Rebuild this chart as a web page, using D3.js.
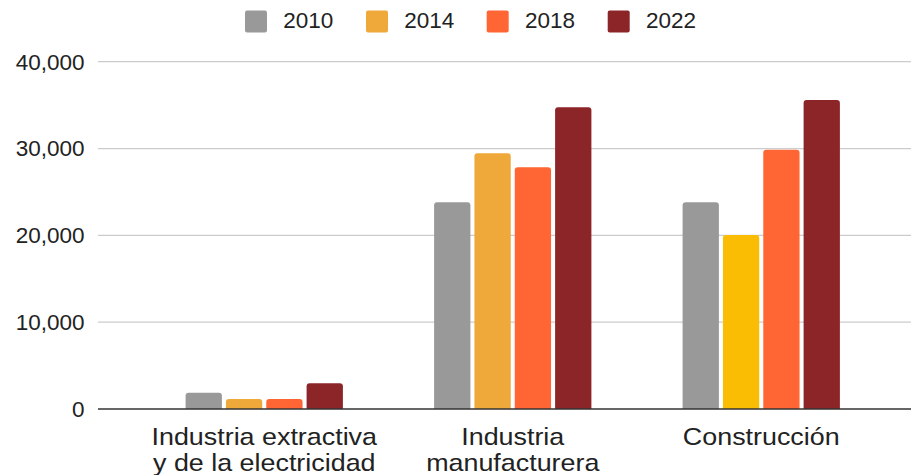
<!DOCTYPE html>
<html><head><meta charset="utf-8">
<script src="https://cdn.jsdelivr.net/npm/d3@7"></script>
<style>body{margin:0;background:#fff}svg{display:block;font-family:"Liberation Sans",Arial,sans-serif}</style>
</head><body>
<script>
const categories = [["Industria extractiva","y de la electricidad"],["Industria","manufacturera"],["Construcción"]];
const years = ["2010","2014","2018","2022"];
const values2010 = [1880, 23800, 23800];
const values2014 = [1150, 29450, 20050];
const values2018 = [1150, 27850, 29850];
const values2022 = [2960, 34750, 35600];
const seriesColors = ["#999999","#EFA83A","#FF6633","#8C2528"];
const pointColorOverride = [null, null, "#FBBC04"]; // 2014, Construcción
const yTicks = [0,10000,20000,30000,40000];

const W=911,H=475;
const svg=d3.select("body").append("svg").attr("width",W).attr("height",H);
const y=d3.scaleLinear().domain([0,40000]).range([409,61.7]);
const x0=d3.scaleBand().domain(d3.range(categories.length)).range([140,885.5]);
const groupW=157.3;
const x1=d3.scaleBand().domain(years).range([0,groupW]).paddingInner(0.1);
const allVals=[values2010,values2014,values2018,values2022];

// gridlines
svg.append("g").selectAll("line").data(yTicks.filter(d=>d>0)).join("line")
 .attr("x1",98).attr("x2",W).attr("y1",d=>y(d)).attr("y2",d=>y(d))
 .attr("stroke","#cccccc").attr("stroke-width",1.2);
// tick labels
const fmt=d3.format(",");
svg.append("g").selectAll("text").data(yTicks).join("text")
 .attr("x",84.5).attr("y",d=>y(d)).attr("dy","0.35em").attr("text-anchor","end")
 .attr("font-size",22.5).attr("fill","#222").text(d=>fmt(d));

// bars
const g=svg.append("g");
categories.forEach((c,i)=>{
  const gx=x0(i)+(x0.bandwidth()-groupW)/2;
  years.forEach((yr,j)=>{
    const v=allVals[j][i];
    let col=seriesColors[j];
    if(j===1 && pointColorOverride[i]) col=pointColorOverride[i];
    g.append("path").attr("fill",col)
     .attr("d",roundTop(gx+x1(yr),y(v),x1.bandwidth(),y(0)-y(v),3));
  });
});
function roundTop(x,yy,w,h,r){
  r=Math.min(r,h,w/2);
  return `M${x},${yy+h}V${yy+r}Q${x},${yy} ${x+r},${yy}H${x+w-r}Q${x+w},${yy} ${x+w},${yy+r}V${yy+h}Z`;
}
// baseline
svg.append("line").attr("x1",98).attr("x2",W).attr("y1",y(0)).attr("y2",y(0))
 .attr("stroke","#333").attr("stroke-width",1.5);

// category labels
categories.forEach((lines,i)=>{
  const cx=x0(i)+x0.bandwidth()/2;
  const t=svg.append("text").attr("transform",`translate(${cx},444.5) scale(1.12,1)`)
   .attr("text-anchor","middle").attr("font-size",24).attr("fill","#222");
  lines.forEach((l,k)=>t.append("tspan").attr("x",0).attr("y",k*27).text(l));
});

// legend
const legX=[245,366,486.7,607.7];
years.forEach((yr,j)=>{
  svg.append("rect").attr("x",legX[j]).attr("y",10.5).attr("width",22).attr("height",22)
   .attr("rx",2).attr("fill",seriesColors[j]);
  svg.append("text").attr("x",legX[j]+38.3).attr("y",28.3).attr("font-size",22.5)
   .attr("fill","#222").text(yr);
});
</script>
</body></html>
